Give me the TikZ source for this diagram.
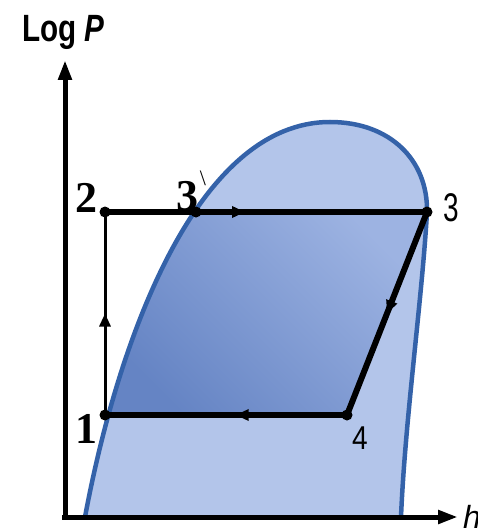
\documentclass[tikz,border=0pt]{standalone}
\usepackage{fontspec}
\setmainfont{Liberation Serif}
\newfontfamily\arialf{Liberation Sans}
\usetikzlibrary{arrows.meta,decorations.markings}
\definecolor{domefill}{HTML}{B3C5EA}
\definecolor{domeedge}{HTML}{3462A9}
\definecolor{darkA}{HTML}{6584C4}
\definecolor{darkB}{HTML}{9DB3E2}
\tikzset{
  cyc/.style={line width=6pt, black},
  thinline/.style={line width=3pt, black},
  axisline/.style={line width=5pt, black, -{Triangle[length=20pt,width=13pt]}},
  midarrow/.style={postaction={decorate}, decoration={markings, mark=at position #1 with {\arrow{Triangle[length=13pt,width=11pt]}}}},
  dot/.style={circle, fill=black, inner sep=0pt, minimum size=11pt},
  serifnum/.style={font=\fontsize{44}{44}\selectfont\bfseries, inner sep=0pt},
  sansnum/.style={font=\arialf\fontsize{40}{40}\selectfont, inner sep=0pt},
}
\begin{document}
\begin{tikzpicture}[x=1pt,y=-1pt]
\useasboundingbox (0,0) rectangle (477,532);
% dome
\fill[domefill] (85,517) .. controls (120,330) and (200,122) .. (330,122) .. controls (390,122) and (428,160) .. (427,212) .. controls (422,300) and (405,420) .. (401,517) -- cycle;
\begin{scope}
\clip (85,517) .. controls (120,330) and (200,122) .. (330,122) .. controls (390,122) and (428,160) .. (427,212) .. controls (422,300) and (405,420) .. (401,517) -- cycle;
\shade[top color=darkB, bottom color=darkA, shading angle=-45] (105,212) -- (427,212) -- (347,415) -- (105,415) -- cycle;
\end{scope}
\draw[domeedge, line width=4.5pt] (85,517) .. controls (120,330) and (200,122) .. (330,122) .. controls (390,122) and (428,160) .. (427,212) .. controls (422,300) and (405,420) .. (401,517);
% axes
\coordinate (O) at (65,519);
\coordinate (xstart) at (62,517);
\coordinate (ytip) at (65,60);
\coordinate (xtip) at (458,517);
\draw[axisline] (O) -- (ytip);
\draw[axisline] (xstart) -- (xtip);
% cycle points
\coordinate (p2) at (105,212);
\coordinate (p3a) at (196,212);
\coordinate (p3) at (427,212);
\coordinate (p4) at (347,415);
\coordinate (p1) at (105,415);
\draw[thinline, midarrow=0.5] (p1) -- (p2);
\draw[cyc, midarrow=0.435] (p2) -- (p3);
\draw[cyc, midarrow=0.5] (p3) -- (p4);
\draw[cyc, midarrow=0.46] (p4) -- (p1);
\foreach \p in {p1,p2,p3a,p3,p4} \node[dot] at (\p) {};
% labels
\node[serifnum] (l2) at (86,198) {2};
\node[serifnum] (l3a) at (187,196) {3};
\node[font=\fontsize{22}{22}\selectfont, inner sep=0pt] (l3prime) at (203,178) {\textbackslash};
\node[sansnum] (l3) at (451,208) {\scalebox{0.7}[1]{3}};
\node[sansnum, font=\arialf\fontsize{33}{33}\selectfont] (l4) at (360,438) {\scalebox{0.85}[1]{4}};
\node[serifnum] (l1) at (86,429) {1};
\node[font=\arialf\bfseries\fontsize{38}{38}\selectfont, inner sep=0pt, anchor=base west] (logp) at (22,42) {\scalebox{0.78}[1]{Log \textit{P}}};
\node[font=\arialf\fontsize{32}{32}\selectfont\itshape, inner sep=0pt, anchor=base west] (hlab) at (463,528) {h};
\end{tikzpicture}
\end{document}
